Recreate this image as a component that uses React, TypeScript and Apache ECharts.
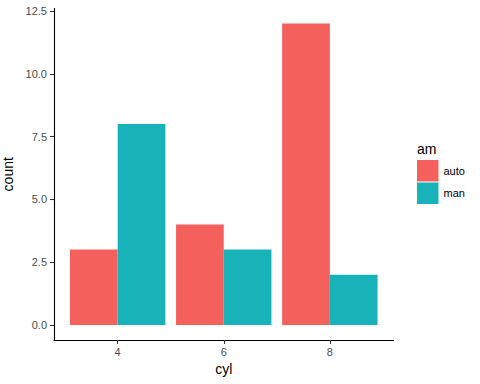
import React, { useEffect, useRef } from "react";
import * as echarts from "echarts";

const categories = ["4", "6", "8"];
const autoCounts = [3, 4, 12];
const manCounts = [8, 3, 2];
const yTicks = [0, 2.5, 5, 7.5, 10, 12.5];
const seriesNames = ["auto", "man"];
const colors = ["#F4605B", "#18B3B8"];

const FONT = "Liberation Sans, Arial, sans-serif";

export default function App() {
  const ref = useRef<HTMLDivElement>(null);
  useEffect(() => {
    if (!ref.current) return;
    const chart = echarts.init(ref.current, null, { renderer: "svg" });
    const xPos = categories.map((_, i) => i + 1);
    chart.setOption({
      animation: false,
      backgroundColor: "#ffffff",
      textStyle: { fontFamily: FONT },
      grid: { left: 54, right: 86.5, top: 8.5, bottom: 44, containLabel: false, outerBoundsMode: "none" },
      xAxis: {
        type: "value",
        min: 0.4,
        max: 3.6,
        name: "cyl",
        nameLocation: "middle",
        nameGap: 22,
        nameTextStyle: { fontSize: 14, color: "#000", fontFamily: FONT },
        axisLine: { onZero: false, lineStyle: { color: "#000", width: 1.1 } },
        axisTick: { show: true, customValues: xPos, length: 4, lineStyle: { color: "#333", width: 1.1 } },
        axisLabel: {
          customValues: xPos,
          formatter: (v: number) => categories[Math.round(v) - 1] ?? "",
          fontSize: 11,
          color: "#4D4D4D",
          margin: 6,
          fontFamily: FONT,
        },
        splitLine: { show: false },
      },
      yAxis: {
        type: "value",
        min: -0.6,
        max: 12.6,
        name: "count",
        nameLocation: "middle",
        nameGap: 32,
        nameRotate: 90,
        nameTextStyle: { fontSize: 14, color: "#000", fontFamily: FONT },
        axisLine: { show: true, lineStyle: { color: "#000", width: 1.1 } },
        axisTick: { show: true, customValues: yTicks, length: 4, lineStyle: { color: "#333", width: 1.1 } },
        axisLabel: {
          customValues: yTicks,
          formatter: (v: number) => v.toFixed(1),
          fontSize: 11,
          color: "#4D4D4D",
          margin: 7,
          fontFamily: FONT,
        },
        splitLine: { show: false },
      },
      legend: {
        orient: "vertical",
        left: 417,
        top: 160,
        padding: 0,
        itemWidth: 21.5,
        itemHeight: 21.5,
        itemGap: 1,
        icon: "rect",
        textStyle: { fontSize: 11, color: "#000", fontFamily: FONT },
        data: seriesNames,
      },
      graphic: [
        {
          type: "text",
          left: 417,
          top: 142,
          style: { text: "am", fontSize: 14, fill: "#000", fontFamily: FONT },
        },
      ],
      series: [
        {
          name: seriesNames[0],
          type: "bar",
          barWidth: 47.7,
          barGap: "0%",
          itemStyle: { color: colors[0] },
          data: autoCounts.map((v, i) => [xPos[i], v]),
        },
        {
          name: seriesNames[1],
          type: "bar",
          barWidth: 47.7,
          barGap: "0%",
          itemStyle: { color: colors[1] },
          data: manCounts.map((v, i) => [xPos[i], v]),
        },
      ],
    });
    return () => chart.dispose();
  }, []);
  return (
    <div
      ref={ref}
      style={{ position: "fixed", left: 0, top: 0, width: 480, height: 384 }}
    />
  );
}
